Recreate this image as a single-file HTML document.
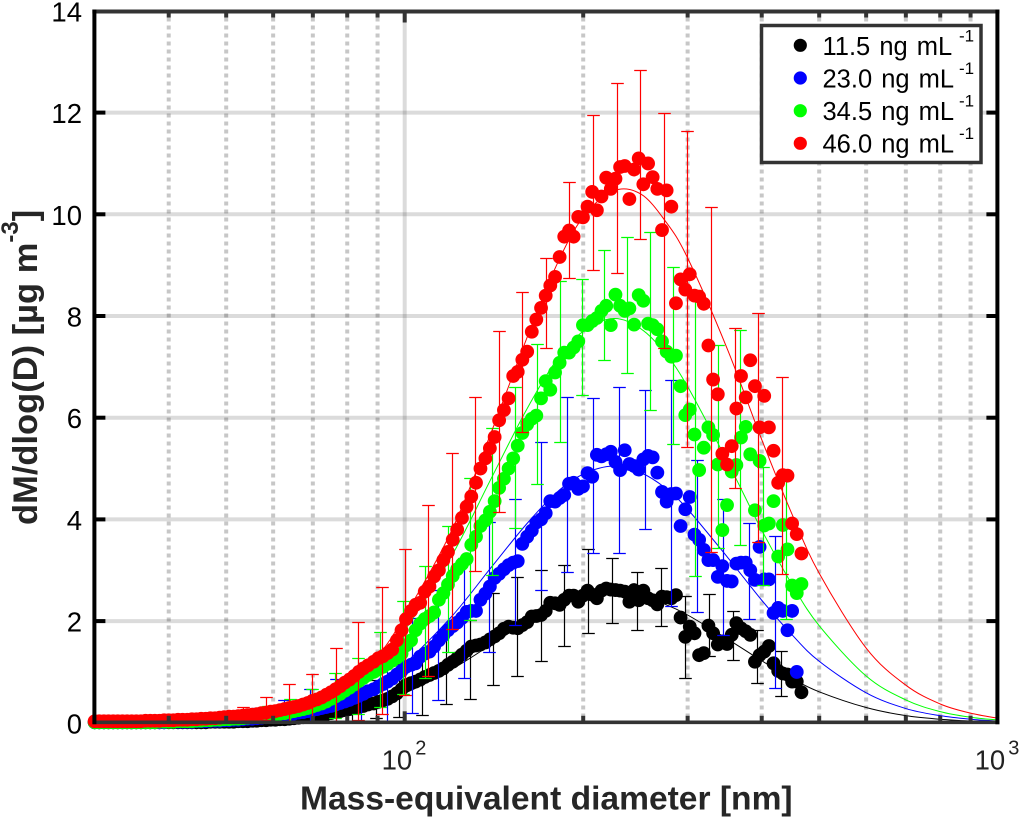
<!DOCTYPE html>
<html lang="en">
<head>
<meta charset="utf-8">
<title>Mass distribution chart</title>
<style>
html,body{margin:0;padding:0;background:#fff;}
svg{display:block;font-family:"Liberation Sans",sans-serif;}
</style>
</head>
<body>
<svg id="chart" width="1021" height="819" viewBox="0 0 1021 819" xmlns="http://www.w3.org/2000/svg">
  <rect x="0" y="0" width="1021" height="819" fill="#ffffff"/>
  <g id="grid"></g>
  <g id="plot"></g>
  <g id="axes"></g>
  <text x="300" y="809.5" font-size="33.6" font-weight="bold" fill="#262626">Mass-equivalent diameter [nm]</text>
  <text transform="translate(37,525) rotate(-90)" font-size="34.5" font-weight="bold" fill="#262626">dM/dlog(D) [µg m<tspan dy="-19" font-size="24">-3</tspan><tspan dy="19">]</tspan></text>
  <g>
    <rect x="761.5" y="25.5" width="219.5" height="137" fill="#ffffff" stroke="#333333" stroke-width="3.5"/>
    <g>
      <circle cx="800.3" cy="45.3" r="6.6" fill="#000000"/>
      <text x="822.5" y="55" font-size="25.5" word-spacing="2" fill="#000">11.5 ng mL</text>
      <text x="959" y="41.5" font-size="17" fill="#000">-1</text>
    </g>
    <g>
      <circle cx="800.3" cy="78" r="6.6" fill="#0000ff"/>
      <text x="822.5" y="87.5" font-size="25.5" word-spacing="2" fill="#000">23.0 ng mL</text>
      <text x="959" y="74" font-size="17" fill="#000">-1</text>
    </g>
    <g>
      <circle cx="800.3" cy="110.7" r="6.6" fill="#00ff00"/>
      <text x="822.5" y="120" font-size="25.5" word-spacing="2" fill="#000">34.5 ng mL</text>
      <text x="959" y="106.5" font-size="17" fill="#000">-1</text>
    </g>
    <g>
      <circle cx="800.3" cy="143.3" r="6.6" fill="#ff0000"/>
      <text x="822.5" y="152.7" font-size="25.5" word-spacing="2" fill="#000">46.0 ng mL</text>
      <text x="959" y="139" font-size="17" fill="#000">-1</text>
    </g>
  </g>
</svg>
<script>
const yTickValues = [0, 2, 4, 6, 8, 10, 12, 14];
const xMajorTicks = [100];
const xMinorTicks = [40, 50, 60, 70, 80, 90, 200, 300, 400, 500, 600, 700, 800, 900];
const xDecadeLabels = [[100, "10", "2"], [1000, "10", "3"]];

const diameters = [
30.0,30.54,31.1,31.66,32.24,32.82,33.42,34.03,34.64,35.27,
35.91,36.56,37.23,37.9,38.59,39.29,40.0,40.73,41.47,42.22,
42.99,43.77,44.56,45.37,46.2,47.03,47.89,48.76,49.64,50.55,
51.46,52.4,53.35,54.32,55.3,56.31,57.33,58.37,59.43,60.51,
61.61,62.73,63.87,65.03,66.21,67.41,68.63,69.88,71.15,72.44,
73.75,75.09,76.46,77.85,79.26,80.7,82.16,83.65,85.17,86.72,
88.64,90.26,91.9,93.57,95.27,97.01,98.78,100.5,102.5,104.3,
106.2,108.1,110.1,112.1,114.2,116.2,118.3,120.5,122.6,124.9,
127.2,129.5,131.9,134.2,136.8,139.2,141.8,144.3,147.0,149.7,
152.4,155.1,157.9,160.9,163.8,166.7,169.8,172.9,176.0,179.3,
182.5,185.8,189.3,192.7,196.2,199.8,203.4,207.1,210.9,214.7,
218.7,222.6,226.7,230.8,235.0,239.3,243.7,248.1,252.6,257.3,
261.9,266.7,271.6,276.5,281.6,286.7,291.9,297.3,302.5,308.1,
313.7,319.4,325.2,331.2,337.3,343.3,349.6,356.0,362.5,369.1,
375.9,382.6,389.6,396.7,403.9,411.3,418.8,426.4,434.2,442.1,
450.1,458.3,466.7];

const valuesBlack = [
.01,.01,.01,.01,.01,.01,.01,.01,.01,.01,
.01,.01,.01,.01,.01,.01,.01,.01,.01,.01,
.01,.01,.01,.01,.01,.02,.02,.02,.02,.02,
.02,.03,.03,.03,.04,.04,.05,.05,.06,.06,
.07,.07,.08,.09,.1,.11,.12,.13,.14,.16,
.17,.19,.21,.23,.25,.27,.29,.31,.33,.36,
.38,.41,.44,.47,.52,.58,.66,.74,.78,.81,
.85,.9,.94,.98,1.02,1.07,1.14,1.2,1.27,1.34,
1.42,1.5,1.52,1.54,1.58,1.64,1.7,1.76,1.85,1.89,
1.87,1.86,1.92,1.98,2.09,2.1,2.12,2.2,2.36,2.35,
2.32,2.42,2.5,2.5,2.38,2.5,2.6,2.52,2.45,2.6,
2.64,2.62,2.61,2.6,2.58,2.38,2.61,2.41,2.6,2.45,
2.41,2.33,2.48,2.47,2.45,2.51,2.07,1.69,1.89,1.76,
1.33,1.37,1.91,1.76,1.54,1.6,1.55,1.73,1.96,1.86,
1.8,1.73,1.2,1.33,1.4,1.51,1.17,1.02,.97,.95,
.81,.81,.6];

const valuesBlue = [
.01,.01,.01,.01,.01,.01,.01,.01,.01,.01,
.01,.01,.01,.01,.01,.01,.02,.02,.02,.02,
.02,.02,.03,.03,.03,.04,.04,.04,.05,.05,
.06,.06,.07,.08,.08,.09,.10,.11,.12,.13,
.14,.15,.17,.18,.20,.21,.23,.25,.27,.29,
.31,.33,.36,.39,.42,.45,.49,.53,.57,.62,
.66,.71,.76,.81,.87,.95,1.02,1.1,1.14,1.17,
1.3,1.36,1.4,1.5,1.62,1.72,1.82,1.9,1.97,2.06,
2.18,2.2,2.2,2.42,2.54,2.68,2.85,2.93,3.02,3.1,
3.15,3.18,3.52,3.66,3.78,3.94,4.0,4.12,4.36,4.35,
4.42,4.48,4.7,4.72,4.6,4.65,4.91,4.84,5.27,5.24,
5.28,5.33,5.13,4.97,5.36,5.09,5.05,4.98,5.18,5.25,
5.22,4.92,4.54,4.35,4.5,4.51,3.87,4.2,4.44,3.7,
3.6,3.4,3.2,3.2,2.87,3.08,2.79,2.78,3.13,3.15,
3.15,3.0,2.81,3.46,2.82,2.82,2.16,2.26,2.2,1.82,
2.2,1.0];

const valuesGreen = [
.01,.01,.01,.01,.01,.01,.01,.01,.01,.01,
.01,.01,.01,.01,.02,.02,.02,.02,.03,.03,
.03,.03,.04,.04,.05,.05,.06,.06,.07,.07,
.08,.08,.09,.10,.11,.12,.13,.14,.15,.17,
.18,.19,.21,.23,.25,.27,.29,.32,.35,.38,
.42,.47,.52,.57,.63,.69,.75,.82,.88,.94,
1.0,1.05,1.1,1.16,1.22,1.28,1.36,1.52,1.62,1.82,
1.95,2.04,2.1,2.17,2.42,2.55,2.72,2.89,3.02,3.12,
3.22,3.5,3.66,3.87,3.98,4.15,4.36,4.62,4.8,5.0,
5.2,5.45,5.7,5.87,5.98,6.04,6.38,6.72,6.55,6.89,
7.08,7.28,7.28,7.38,7.5,7.82,7.82,7.9,7.96,8.1,
8.2,7.82,8.42,8.2,8.1,8.15,7.83,8.41,8.3,7.85,
7.82,7.74,7.5,7.3,7.2,7.22,6.62,6.05,6.16,5.67,
4.97,5.41,5.81,5.66,5.08,3.79,4.28,4.94,5.07,5.61,
5.82,5.28,4.18,5.15,3.88,3.92,4.36,3.27,3.89,3.41,
2.7,2.55,2.73];

const valuesRed = [
.03,.03,.03,.03,.03,.03,.03,.03,.03,.03,
.03,.04,.04,.04,.04,.05,.05,.05,.06,.06,
.06,.07,.07,.08,.08,.09,.09,.10,.11,.12,
.12,.13,.14,.15,.16,.17,.19,.20,.22,.23,
.25,.27,.29,.31,.33,.36,.39,.43,.46,.50,
.55,.60,.66,.72,.79,.85,.92,1.0,1.07,1.13,
1.2,1.27,1.31,1.37,1.44,1.62,1.82,2.04,2.2,2.32,
2.36,2.58,2.68,2.88,3.0,3.2,3.36,3.6,3.8,4.03,
4.25,4.45,4.72,5.0,5.2,5.4,5.62,5.95,6.15,6.38,
6.82,6.9,7.14,7.3,7.69,7.93,8.16,8.4,8.6,8.77,
9.16,9.56,9.68,9.56,9.95,9.94,10.15,10.44,10.08,10.35,
10.72,10.5,10.7,10.93,10.95,10.3,10.88,11.1,10.59,11.0,
10.73,10.5,9.69,10.47,10.15,8.25,8.72,8.52,8.82,8.4,
8.38,8.24,7.42,6.75,6.46,5.29,5.08,5.44,6.18,6.82,
6.4,7.13,6.62,5.81,6.43,5.81,5.35,4.72,4.87,4.86,
3.92,3.71,3.33];

const fitDiameters = [30,40,50,60,70,80,90,100,120,140,160,180,200,225,250,275,300,350,400,450,500,600,700,800,900,1000];
const fitBlack = [0,.003,.016,.05,.12,.23,.39,.58,1.05,1.54,1.97,2.28,2.47,2.55,2.49,2.33,2.12,1.65,1.22,.87,.61,.30,.14,.07,.035,.018];
const fitBlue = [0,.006,.032,.10,.24,.46,.77,1.16,2.09,3.06,3.89,4.52,4.89,5.05,4.92,4.62,4.20,3.26,2.41,1.73,1.21,.59,.28,.14,.07,.035];
const fitGreen = [0,.01,.05,.16,.38,.73,1.22,1.82,3.28,4.81,6.13,7.12,7.70,7.95,7.75,7.27,6.61,5.14,3.79,2.72,1.91,.92,.45,.22,.11,.055];
const fitRed = [0,.008,.047,.16,.38,.77,1.31,2.1,3.78,5.72,7.51,8.98,9.95,10.46,10.4,9.87,9.14,7.35,5.57,4.1,2.94,1.47,.74,.37,.19,.09];

const errDiametersBlack = [67.6,74.2,81.5,89.3,97.8,107.1,117.4,128.7,141.1,154.7,169.6,185.8,204,223.9,246.2,270.2,296.6,325.6,357.4,392.3,431.7];
const errLowBlack = [0,.02,.02,.1,.11,.15,.36,.46,.74,.93,1.21,1.52,1.76,1.96,1.82,1.9,.89,1.31,1.23,.78,.52];
const errHighBlack = [.17,.28,.55,.85,1.16,1.39,1.76,2.02,2.55,2.86,3.0,3.1,3.41,3.25,2.96,3.04,2.49,2.53,2.19,1.82,1.41];

const errDiametersBlue = [51.2,56.6,62.6,69.2,76.5,84.4,93.2,103,113.8,125.8,138.9,153.5,169.8,187.6,207.5,229.6,253.9,281,310.8,344.2,380.7,421.7];
const errLowBlue = [0,0,.01,.01,.02,.02,.04,.19,.44,.89,1.39,1.92,2.61,2.96,3.33,3.33,3.82,2.29,2.17,1.72,2.05,.68];
const errHighBlue = [.2,.29,.44,.67,.86,.98,1.18,2.07,2.61,3.25,3.94,4.41,5.52,6.4,6.38,6.6,6.54,6.74,5.16,4.41,3.92,3.67];

const errDiametersGreen = [53.8,58.7,64.1,69.9,76.3,83.3,90.9,99.2,108.3,118.2,128.9,140.5,153.3,167.4,182.8,199.3,217.1,237.4,259.2,283.1,308.7,337.2,368,402,439];
const errLowGreen = [0,.01,.02,.04,.09,.17,.32,.56,.89,1.39,2.02,2.9,3.84,4.69,5.52,6.44,7.13,6.87,6.15,5.48,2.88,3.43,3.49,2.71,2.04];
const errHighGreen = [.2,.34,.47,.66,.97,1.27,1.78,2.39,3.08,3.88,4.81,5.79,6.6,7.44,8.69,8.72,9.29,9.55,9.65,8.96,8.51,7.43,7.72,5.04,4.87];

const errDiametersRed = [40.7,44.5,48.8,53.4,58.3,63.8,69.9,76.5,83.5,91.4,100.1,109.6,120,131.5,144.1,157.9,172.9,189.5,207.5,227.8,249.4,273.4,299.7,328.5,360.2,394.7,433.4];
const errLowRed = [0,0,.01,.02,.05,.03,.03,.02,.05,.17,.55,.93,1.84,2.98,4.14,5.71,7.38,8.74,8.9,8.84,9.51,7.38,5.42,3.35,4.61,3.55,2.93];
const errHighRed = [.08,.13,.22,.32,.5,.76,.95,1.47,1.98,2.68,3.41,4.28,5.3,6.4,7.7,8.47,9.15,10.63,11.95,12.58,12.83,11.99,11.63,10.14,7.76,8.05,6.81];

const seriesNames = ["black", "blue", "green", "red"];
const seriesColors = ["#000000", "#0000ff", "#00ff00", "#ff0000"];
const seriesValues = [valuesBlack, valuesBlue, valuesGreen, valuesRed];
const seriesFits = [fitBlack, fitBlue, fitGreen, fitRed];
const seriesErrDiameters = [errDiametersBlack, errDiametersBlue, errDiametersGreen, errDiametersRed];
const seriesErrLow = [errLowBlack, errLowBlue, errLowGreen, errLowRed];
const seriesErrHigh = [errHighBlack, errHighBlue, errHighGreen, errHighRed];

const NS = "http://www.w3.org/2000/svg";
const plotLeft = 94.4, plotRight = 997.4, plotTop = 11.5, plotBottom = 722.3;

function xScale(d) { return 404.7 + 593 * Math.log10(d / 100); }
function yScale(v) { return 722.8 - 50.85 * v; }
function make(tag, parent, props) {
  const el = document.createElementNS(NS, tag);
  for (const k in props) el.setAttribute(k, props[k]);
  parent.appendChild(el);
  return el;
}

const gridG = document.getElementById("grid");
const plotG = document.getElementById("plot");
const axesG = document.getElementById("axes");

yTickValues.forEach(function (v) {
  if (v === 0 || v === 14) return;
  const line = make("line", gridG, { x1: plotLeft, x2: plotRight, y1: yScale(v), y2: yScale(v), stroke: "rgba(0,0,0,0.14)", "stroke-width": 4 });
  
  
});
xMajorTicks.forEach(function (d) {
  const line = make("line", gridG, { x1: xScale(d), x2: xScale(d), y1: plotTop, y2: plotBottom, stroke: "rgba(0,0,0,0.14)", "stroke-width": 4 });
  
  
});
xMinorTicks.forEach(function (d) {
  const line = make("line", gridG, { x1: xScale(d), x2: xScale(d), y1: plotTop, y2: plotBottom, stroke: "rgba(0,0,0,0.22)", "stroke-width": 4, "stroke-dasharray": "4 4", "stroke-dashoffset": 2 });
  
  
});

function fitPath(xs, ys) {
  const p = xs.map(function (d, i) { return [xScale(d), yScale(ys[i])]; });
  let s = "M" + p[0][0].toFixed(2) + " " + p[0][1].toFixed(2);
  for (let i = 0; i < p.length - 1; i++) {
    const a = p[Math.max(0, i - 1)], b = p[i], c = p[i + 1], e = p[Math.min(p.length - 1, i + 2)];
    s += "C" + (b[0] + (c[0] - a[0]) / 6).toFixed(2) + " " + (b[1] + (c[1] - a[1]) / 6).toFixed(2) + " " +
      (c[0] - (e[0] - b[0]) / 6).toFixed(2) + " " + (c[1] - (e[1] - b[1]) / 6).toFixed(2) + " " +
      c[0].toFixed(2) + " " + c[1].toFixed(2);
  }
  return s;
}

seriesNames.forEach(function (name, si) {
  const color = seriesColors[si];
  const g = make("g", plotG, {});
  
  

  seriesErrDiameters[si].forEach(function (d, i) {
    const x = Math.round(xScale(d)) + 0.5;
    const yH = Math.round(yScale(seriesErrHigh[si][i])) + 0.5;
    const yL = Math.min(Math.round(yScale(seriesErrLow[si][i])) + 0.5, 722.5);
    const path = "M" + x + " " + yH + "V" + yL + "M" + (x - 6.3) + " " + yH + "H" + (x + 6.3) + "M" + (x - 6.3) + " " + yL + "H" + (x + 6.3);
    const bar = make("path", g, { d: path, fill: "none", stroke: color, "stroke-width": 1.2 });
    
    
  });

  const fit = make("path", g, { d: fitPath(fitDiameters, seriesFits[si]), fill: "none", stroke: color, "stroke-width": 1 });
  
  

  seriesValues[si].forEach(function (v, i) {
    const dot = make("circle", g, { cx: xScale(diameters[i]).toFixed(2), cy: yScale(v).toFixed(2), r: 6.9, fill: color });
    
    
  });
});

const topSpine = make("line", axesG, { x1: plotLeft - 2, x2: plotRight + 2, y1: plotTop, y2: plotTop, stroke: "#333333", "stroke-width": 4 });


const bottomSpine = make("line", axesG, { x1: plotLeft - 2, x2: plotRight + 2, y1: plotBottom, y2: plotBottom, stroke: "#333333", "stroke-width": 3.6 });


const leftSpine = make("line", axesG, { x1: plotLeft, x2: plotLeft, y1: plotTop - 2, y2: plotBottom + 2, stroke: "#000000", "stroke-width": 4 });


const rightSpine = make("line", axesG, { x1: plotRight, x2: plotRight, y1: plotTop - 2, y2: plotBottom + 2, stroke: "#000000", "stroke-width": 4 });



yTickValues.forEach(function (v) {
  const y = yScale(v);
  if (v !== 0 && v !== 14) {
    const t1 = make("line", axesG, { x1: plotLeft, x2: plotLeft + 11, y1: y, y2: y, stroke: "#000", "stroke-width": 4 });
    
    
    const t2 = make("line", axesG, { x1: plotRight - 11, x2: plotRight, y1: y, y2: y, stroke: "#000", "stroke-width": 4 });
    
    
  }
  const label = make("text", axesG, { x: 82, y: Math.max(y + 10.5, 21), "text-anchor": "end", "font-size": 27.5, fill: "#000" });
  label.textContent = String(v);
  
  
});

xMajorTicks.forEach(function (d) {
  const x = xScale(d);
  const t1 = make("line", axesG, { x1: x, x2: x, y1: plotBottom - 11, y2: plotBottom, stroke: "#333", "stroke-width": 4 });
  
  
  const t2 = make("line", axesG, { x1: x, x2: x, y1: plotTop, y2: plotTop + 11, stroke: "#333", "stroke-width": 4 });
  
  
});
xMinorTicks.forEach(function (d) {
  const x = xScale(d);
  const t1 = make("line", axesG, { x1: x, x2: x, y1: plotBottom - 6.5, y2: plotBottom, stroke: "#333", "stroke-width": 4 });
  
  
  const t2 = make("line", axesG, { x1: x, x2: x, y1: plotTop, y2: plotTop + 6, stroke: "#333", "stroke-width": 4 });
  
  
});

xDecadeLabels.forEach(function (item) {
  const x = xScale(item[0]);
  const base = make("text", axesG, { x: x + 7.5, y: 769.5, "text-anchor": "end", "font-size": 27.5, fill: "#222" });
  base.textContent = item[1];
  
  
  const sup = make("text", axesG, { x: x + 10.5, y: 754.5, "font-size": 20, fill: "#222" });
  sup.textContent = item[2];
  
  
});
</script>
</body>
</html>
